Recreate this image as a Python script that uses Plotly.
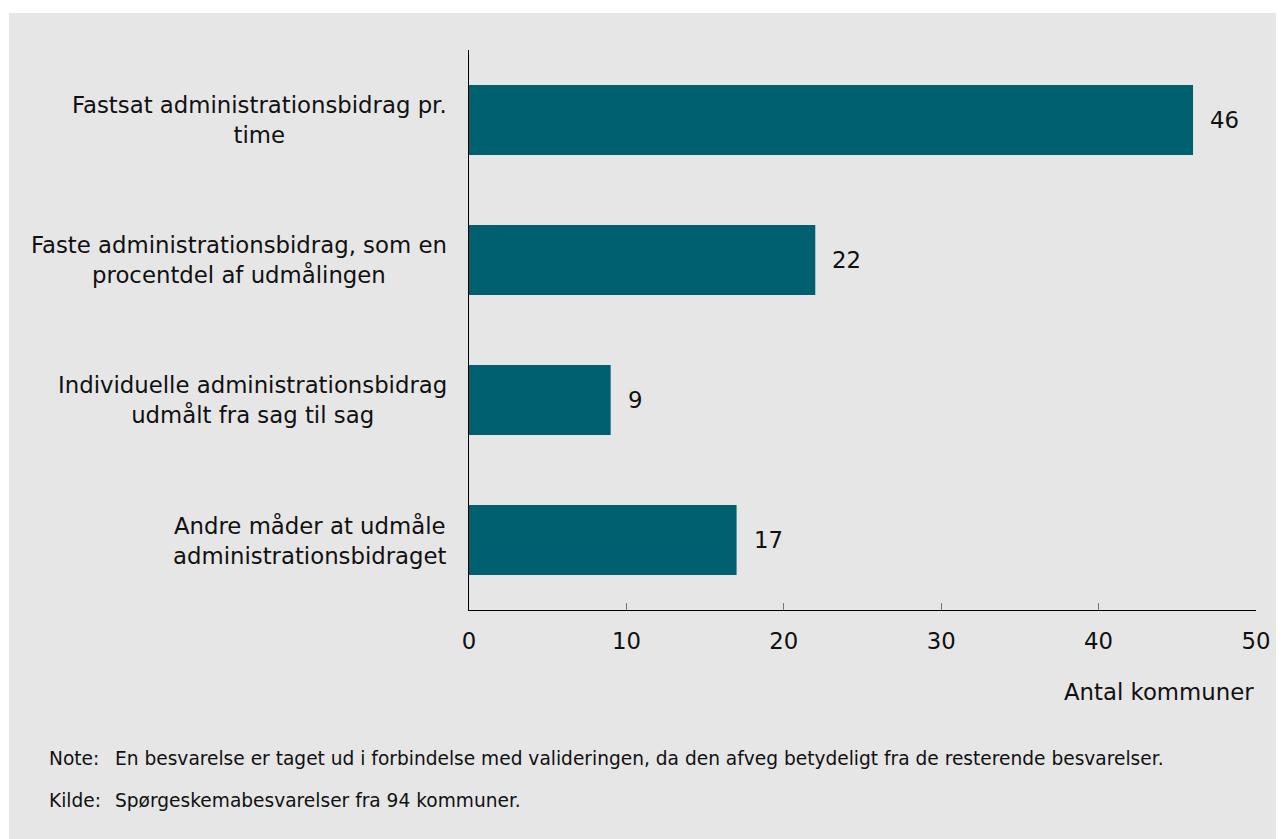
import plotly.graph_objects as go

categories = [
    "Fastsat administrationsbidrag pr.<br>time",
    "Faste administrationsbidrag, som en<br>procentdel af udmålingen",
    "Individuelle administrationsbidrag<br>udmålt fra sag til sag",
    "Andre måder at udmåle<br>administrationsbidraget",
]
values = [46, 22, 9, 17]
tick_vals = [0, 10, 20, 30, 40, 50]
x_title = "Antal kommuner"
note_label = "Note:"
note_text = "En besvarelse er taget ud i forbindelse med valideringen, da den afveg betydeligt fra de resterende besvarelser."
source_label = "Kilde:"
source_text = "Spørgeskemabesvarelser fra 94 kommuner."

BAR = "#006070"
BG = "#e6e6e6"
FONT = "DejaVu Sans"
BIG = 22.8
SMALL = 18.6

W, H = 1284, 839
ml, mr, mt, mb = 461, 36, 42, 237
pw, ph = W - ml - mr, H - mt - mb


def px_x(p):
    return (p - ml) / pw


def px_y(p):
    return (H - mb - p) / ph


fig = go.Figure()
fig.add_trace(go.Bar(
    y=categories, x=values, orientation="h",
    marker=dict(color=BAR, line=dict(width=0)),
    width=0.5, hoverinfo="skip",
))

annotations = []
for c, v in zip(categories, values):
    annotations.append(dict(
        x=v, y=c, xref="x", yref="y", text=str(v), showarrow=False,
        xanchor="left", xshift=15, font=dict(size=BIG, color="#111"),
    ))
    annotations.append(dict(
        x=px_x(441), y=c, xref="paper", yref="y", text=c, showarrow=False,
        xanchor="right", align="center", font=dict(size=BIG, color="#111"),
    ))

annotations += [
    dict(x=1, y=px_y(684), xref="paper", yref="paper", text=x_title, showarrow=False,
         xanchor="right", yanchor="middle", font=dict(size=BIG, color="#111")),
    dict(x=px_x(39), y=px_y(750), xref="paper", yref="paper", text=note_label, showarrow=False,
         xanchor="left", yanchor="middle", font=dict(size=SMALL, color="#111")),
    dict(x=px_x(105), y=px_y(750), xref="paper", yref="paper", text=note_text, showarrow=False,
         xanchor="left", yanchor="middle", font=dict(size=SMALL, color="#111")),
    dict(x=px_x(39), y=px_y(792), xref="paper", yref="paper", text=source_label, showarrow=False,
         xanchor="left", yanchor="middle", font=dict(size=SMALL, color="#111")),
    dict(x=px_x(105), y=px_y(792), xref="paper", yref="paper", text=source_text, showarrow=False,
         xanchor="left", yanchor="middle", font=dict(size=SMALL, color="#111")),
]

fig.update_layout(
    width=W, height=H,
    margin=dict(l=ml, r=mr, t=mt, b=mb, pad=0),
    paper_bgcolor="white", plot_bgcolor="rgba(0,0,0,0)",
    font=dict(family=FONT, size=BIG, color="#111"),
    showlegend=False, bargap=0.5,
    annotations=annotations,
    shapes=[dict(type="rect", xref="paper", yref="paper", layer="below",
                 x0=px_x(1), x1=px_x(W + 5), y0=px_y(5), y1=px_y(H + 5),
                 fillcolor=BG, line=dict(width=0))],
    xaxis=dict(range=[0, 50], tickvals=tick_vals, showgrid=False, zeroline=False,
               showline=True, linecolor="black", linewidth=1,
               ticks="inside", ticklen=7, tickcolor="#777", tickwidth=1,
               tickfont=dict(size=BIG, color="#111"), ticklabelstandoff=11),
    yaxis=dict(categoryorder="array", categoryarray=categories[::-1],
               showticklabels=False, showgrid=False, zeroline=False,
               showline=True, linecolor="black", linewidth=1, ticks=""),
)

fig.write_html("out.html")
